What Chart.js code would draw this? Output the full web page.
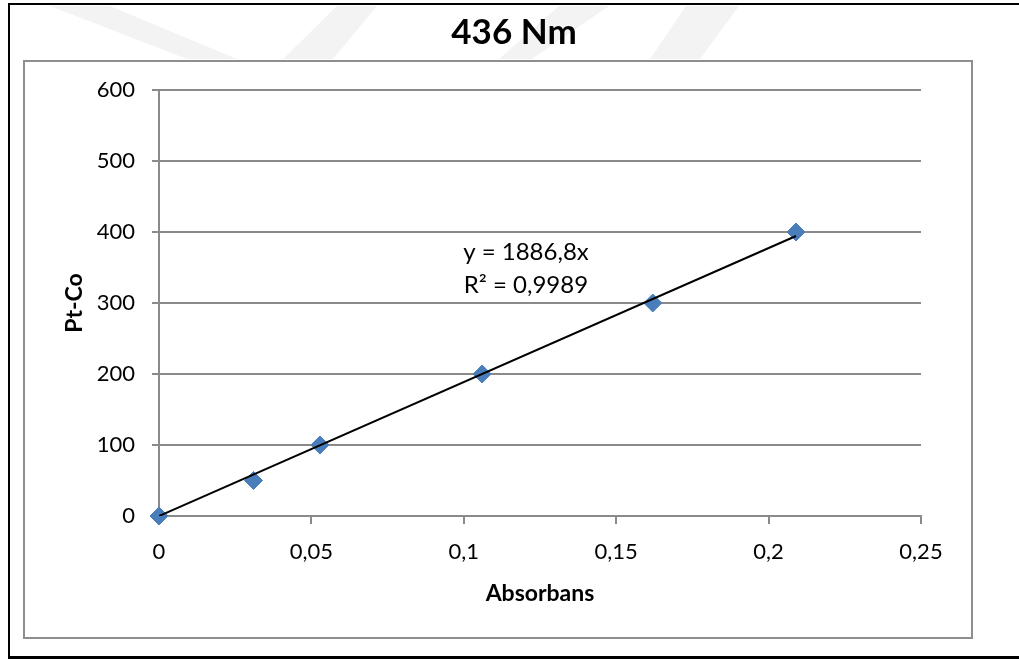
<!DOCTYPE html>
<html>
<head>
<meta charset="utf-8">
<script src="https://cdn.jsdelivr.net/npm/chart.js@4"></script>
<style>
  html, body { margin: 0; padding: 0; background: #fff; }
  #wrap { position: relative; width: 1019px; height: 659px; overflow: hidden; }
  #outer { position: absolute; left: 8px; top: 3px; width: 1100px; height: 651px;
           border-top: 2px solid #000; border-left: 2px solid #000; border-bottom: 3px solid #000; }
  #inner { position: absolute; left: 23px; top: 60px; width: 946px; height: 575px;
           border: 2px solid #8e8e8e; }
  canvas { position: absolute; left: 0; top: 0; }
</style>
</head>
<body>
<div id="wrap">
  <div id="outer"></div>
  <div id="inner"></div>
  <canvas id="calibChart" width="1019" height="659"></canvas>
</div>
<script>
// values
const absorbance = [0, 0.031, 0.0528, 0.106, 0.162, 0.209];
const ptCo = [0, 50, 100, 200, 300, 400];
const xTickLabels = ["0", "0,05", "0,1", "0,15", "0,2", "0,25"];
const yTickLabels = ["0", "100", "200", "300", "400", "500", "600"];

const trendSlope = 1886.8;
const equationLines = ["y = 1886,8x", "R² = 0,9989"];
const chartTitle = "436 Nm";
const xTitle = "Absorbans";
const yTitle = "Pt-Co";

const FONT = 'Lato, "Open Sans", sans-serif';
const GRID = "#8a8a8a";

const points = absorbance.map((x, i) => ({ x: x, y: ptCo[i] }));
const xMax = Math.max(...absorbance);
const trend = [{ x: 0, y: 0 }, { x: xMax, y: trendSlope * xMax }];

// faint watermark bands behind the title (page decoration, not data)
const watermark = [
  [[50, 6], [110, 6], [237, 59], [187, 59]],
  [[337, 6], [377, 6], [333, 59], [283, 59]],
  [[559, 6], [609, 6], [532, 59], [499, 59]],
  [[686, 6], [739, 6], [700, 59], [650, 59]],
];

const bgPlugin = {
  id: "bgPlugin",
  beforeDraw(chart) {
    const ctx = chart.ctx;
    ctx.save();
    ctx.fillStyle = "#f3f3f3";
    watermark.forEach((poly) => {
      ctx.beginPath();
      poly.forEach(([x, y], i) => (i ? ctx.lineTo(x, y) : ctx.moveTo(x, y)));
      ctx.closePath();
      ctx.fill();
    });
    ctx.restore();
  },
};

// title + equation text drawn on the canvas
const textPlugin = {
  id: "textPlugin",
  afterDatasetsDraw(chart) {
    const ctx = chart.ctx;
    const xs = chart.scales.x, ys = chart.scales.y;
    ctx.save();
    ctx.fillStyle = "#000";
    ctx.textAlign = "center";
    ctx.textBaseline = "middle";
    ctx.font = "bold 35px " + FONT;
    ctx.fillText(chartTitle, 514, 33);
    ctx.font = "24px " + FONT;
    const cx = xs.getPixelForValue(0.1204);
    const cy = ys.getPixelForValue(372);
    equationLines.forEach((t, i) => ctx.fillText(t, cx, cy + i * 33));
    ctx.restore();
  },
};

const ctx = document.getElementById("calibChart").getContext("2d");
const calibChart = new Chart(ctx, {
  type: "scatter",
  data: {
    datasets: [
      {
        type: "line",
        data: trend,
        borderColor: "#000",
        borderWidth: 2,
        pointRadius: 0,
        fill: false,
        order: 0,
      },
      {
        data: points,
        backgroundColor: "#4a7ebb",
        borderColor: "#4a7ebb",
        pointStyle: "rectRot",
        pointRadius: 9,
        clip: false,
        order: 1,
      },
    ],
  },
  options: {
    responsive: false,
    animation: false,
    layout: { padding: { top: 90, right: 98, bottom: 0, left: 0 } },
    plugins: {
      legend: { display: false },
      tooltip: { enabled: false },
      title: { display: false },
    },
    scales: {
      x: {
        type: "linear",
        min: 0,
        max: 0.25,
        afterFit: (s) => { s.height = 143; },
        ticks: {
          stepSize: 0.05,
          padding: 15,
          color: "#000",
          font: { family: FONT, size: 22 },
          callback: (v, i) => xTickLabels[i],
        },
        grid: { drawOnChartArea: false, drawTicks: true, tickLength: 8, color: GRID, lineWidth: 2 },
        border: { color: GRID, width: 2 },
        title: {
          display: true,
          text: xTitle,
          color: "#000",
          font: { family: FONT, size: 23, weight: "bold" },
          padding: { top: 0, bottom: 52 },
        },
      },
      y: {
        min: 0,
        max: 600,
        afterFit: (s) => { s.width = 159; },
        ticks: {
          stepSize: 100,
          padding: 17,
          color: "#000",
          font: { family: FONT, size: 22 },
          callback: (v, i) => yTickLabels[i],
        },
        grid: { color: GRID, lineWidth: 2, tickLength: 7 },
        border: { color: GRID, width: 2 },
        title: {
          display: true,
          text: yTitle,
          color: "#000",
          font: { family: FONT, size: 23, weight: "bold" },
          padding: { top: 61, bottom: 0 },
        },
      },
    },
  },
  plugins: [bgPlugin, textPlugin],
});
</script>
</body>
</html>
